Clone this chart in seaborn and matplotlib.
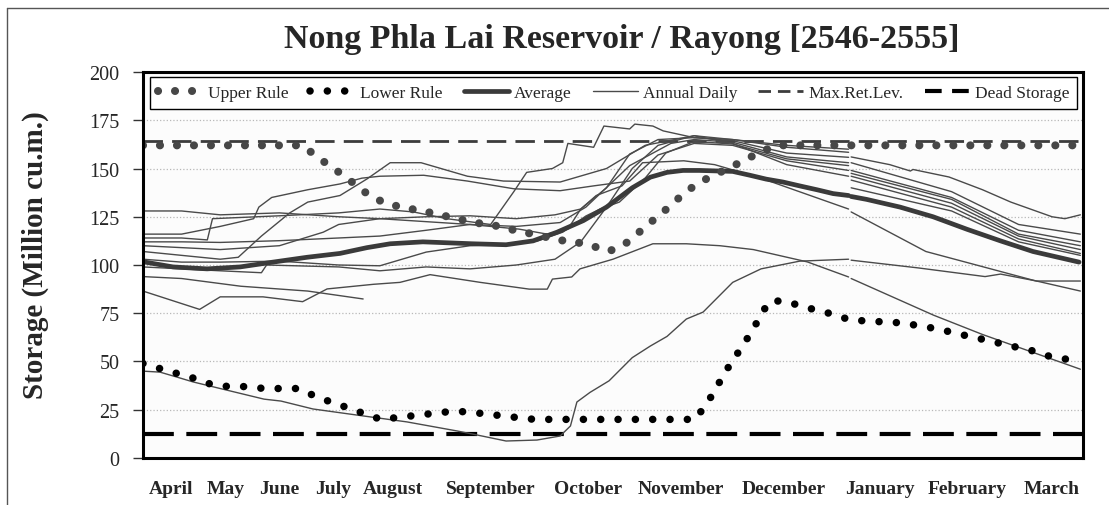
import numpy as np
import pandas as pd
import seaborn as sns
import matplotlib.pyplot as plt
from matplotlib.lines import Line2D

# ---------------------------------------------------------------
# data (x = day counted from 1 April, y = storage in million cu.m.)
# ---------------------------------------------------------------
months = ["April", "May", "June", "July", "August", "September", "October",
          "November", "December", "January", "February", "March"]
month_label_day = [11, 32, 53, 74, 97, 135, 173, 209, 249, 286, 320, 353]

max_ret_level = 164
dead_storage = 12.5

upper_rule_day = [0, 62, 67.6, 73, 78.8, 84, 89, 95.5, 102, 108.7, 115.3, 122, 128, 135, 141, 148,
                  155, 161, 167.6, 174.4, 180.6, 186.4, 191.8, 197, 200.8, 205.8, 210.9, 216.3,
                  222.5, 228.7, 234.6, 240.4, 246.6, 364]
upper_rule_val = [162, 162, 156, 151, 145.5, 140, 135, 131.5, 129.5, 128, 126, 124, 122, 121, 119, 117,
                  115, 113, 112, 110, 107, 110, 116, 122, 126, 132, 138, 143,
                  147, 151, 155, 159, 162, 162]

lower_rule_day = [0, 7.4, 14, 20.6, 26.8, 33.4, 40.4, 47, 54, 60.6, 66.8, 73, 79.6, 85.8, 92.4, 99,
                  105.6, 112, 118.8, 125.4, 132, 138.6, 145, 152, 214.4, 218.3, 221.7, 225.2, 228.7,
                  232.6, 236.1, 239.6, 243, 248.5, 255, 261.7, 268, 274.6, 281, 287.8, 294.8, 301.4,
                  308, 314.6, 320.8, 327.8, 334, 340.6, 347.2, 353.4, 360, 364]
lower_rule_val = [49, 46, 43.5, 41, 38, 37, 37, 36, 36, 36, 32, 29, 26, 23, 20, 21,
                  22, 23, 24, 24, 23, 22, 21, 20, 20, 27, 34, 42.5, 50,
                  57.5, 65, 73, 81, 81.5, 79, 76.5, 74.5, 71.5, 71, 70.5, 70, 68.5,
                  67, 65, 63, 61, 59, 57, 55, 52, 51, 49.5]

# average storage (April-December / January-March)
avg_aprdec = [(0.8, 101.5), (11.7, 99), (24.9, 98), (37.7, 99), (50.5, 101.5), (63.7, 104), (76.5, 106),
              (87, 109), (96, 111), (108.7, 112), (128, 111), (141, 110.5), (151.5, 112.5), (160.8, 117),
              (171, 123), (180, 130), (184, 134), (190, 140), (197, 145.5), (203.5, 148), (209.7, 149),
              (216, 149), (229, 148.5), (235.7, 146.5), (242, 144.5), (248.5, 143), (255, 141),
              (261.7, 139), (268, 137), (274, 136)]
avg_janmar = [(275, 135.5), (281, 134), (294, 130), (306.8, 125), (320, 118.5), (333, 112.5),
              (345.6, 107), (363.5, 101.5)]

# annual daily storage, one pair of lists per year
yr_a_aprdec = [(0, 128), (15, 128), (30, 126), (53, 127), (76, 125), (92, 124), (127, 121), (146, 118.6),
               (157, 116), (165, 118.6), (170, 129), (176, 136), (186, 141), (194, 153), (210, 154),
               (222, 152), (240, 145), (274, 129)]
yr_a_janmar = [(275, 127.5), (304, 107), (346, 92), (364, 86.5)]
yr_b_aprdec = [(0, 107), (15, 105), (30, 103), (37, 104), (46, 115), (57, 127), (64, 132.6), (76.5, 136),
               (87, 144.6), (96, 153), (108, 153), (126, 146), (140, 143.5), (162, 143), (180, 150),
               (195, 162), (214, 167), (229, 165), (250, 161), (274, 158.4)]
yr_b_janmar = [(275, 153), (314, 138), (340, 121), (364, 116)]
yr_c_aprdec = [(0, 114), (15, 114), (25, 113), (27, 124), (53, 125.5), (76, 127), (92, 129), (105, 127.5),
               (118, 124), (135, 121), (144, 138), (149, 148), (159, 150), (163, 153), (165, 163),
               (175, 161), (179, 172), (189, 170.5), (191, 173), (198, 172), (202, 169.5), (214, 166),
               (229, 165), (250, 162), (274, 160)]
yr_c_janmar = [(275, 156), (290, 152), (298, 148.7), (299, 149.5), (313, 145.6), (326, 139),
               (337, 132.6), (353, 125), (358, 124), (364, 126)]
yr_d_aprdec = [(0, 110), (15, 109), (30, 108), (53, 110), (70, 117), (76, 121), (92, 124), (110, 125),
               (127, 125.5), (145, 124), (160, 126), (170, 129), (180, 140), (189, 157.5), (200, 165),
               (214, 166), (229, 164.4), (250, 158), (274, 155.8)]
yr_d_janmar = [(275, 149), (314, 135), (340, 118), (364, 112)]
yr_e_aprdec = [(0, 112), (15, 112), (30, 111.7), (53, 112.6), (76, 114), (92, 115), (110, 118),
               (127, 121), (145, 120), (162, 122), (172, 130), (189, 151.5), (205, 163), (214, 165),
               (229, 163.6), (250, 156), (274, 153)]
yr_e_janmar = [(275, 146), (314, 132), (340, 115), (364, 108)]
yr_f_aprdec = [(0, 103), (15, 101.5), (30, 101.5), (53, 102), (76, 100), (92, 99.6), (110, 106.7),
               (127, 110), (144, 111), (153, 112.4), (163, 117), (172, 125.4), (177.5, 129),
               (185, 132.6), (195, 145), (203, 158), (214, 164), (229, 162.7), (250, 155), (274, 151.5)]
yr_f_janmar = [(275, 144), (314, 130), (340, 113.5), (364, 106)]
yr_g_aprdec = [(0, 116), (15, 116), (30, 120), (43, 124), (45, 130), (50, 135), (64, 139), (76.5, 142),
               (85, 145), (92, 146), (109, 146.5), (126, 143.5), (144, 139.5), (162, 138.5), (175, 141),
               (189, 143.5), (200, 157), (214, 163), (229, 162), (250, 154), (274, 149)]
yr_g_janmar = [(275, 147.5), (314, 134), (340, 116), (364, 110)]
yr_h_aprdec = [(0, 99), (15, 98), (30, 97), (46, 96), (48, 100), (76, 99), (92, 97), (110, 99),
               (127, 98), (145, 100), (160, 103), (170, 112), (180, 130), (190, 150), (200, 162),
               (214, 167), (229, 163), (250, 152), (274, 146)]
yr_h_janmar = [(275, 140), (314, 128), (340, 112), (364, 105)]
yr_p_aprdec = [(0, 45), (6.6, 44.5), (13, 42), (19.5, 39.4), (34, 34.7), (47, 30.5), (53.6, 29.5),
               (66, 25.4), (85.5, 21.8), (102.5, 18.7), (122, 14), (128, 12.4), (141, 8.8), (153, 9.3),
               (162, 11.4), (166, 16.6), (168.5, 29), (173.6, 34), (181, 40), (190, 52), (197, 58),
               (203.5, 63), (211, 72), (217.5, 75.6), (229, 91), (240, 98), (255, 102), (274, 103)]
yr_p_janmar = [(275, 102.5), (301, 98.5), (327, 94), (333, 95.3), (347, 91.7), (364, 91.7)]
yr_q_aprdec = [(0, 86.5), (22, 77), (30, 83.5), (46.6, 83.5), (62, 81), (71.5, 87.6), (89.5, 90),
               (99.8, 91), (111.5, 95), (131, 91), (150, 87.5), (157, 87.5), (159, 92.7), (166.5, 93.8),
               (169.7, 98), (182.5, 103), (198, 111), (211, 111), (224, 110), (237, 108),
               (258, 101.6), (274, 93.8)]
yr_q_janmar = [(275, 93), (307, 74), (326, 64), (345, 55), (364, 46)]
yr_r_aprjul = [(0, 94), (15, 93), (38, 89), (64, 86.5), (85.5, 82.4)]

annual_segments = [yr_a_aprdec, yr_a_janmar, yr_b_aprdec, yr_b_janmar, yr_c_aprdec, yr_c_janmar,
                   yr_d_aprdec, yr_d_janmar, yr_e_aprdec, yr_e_janmar, yr_f_aprdec, yr_f_janmar,
                   yr_g_aprdec, yr_g_janmar, yr_h_aprdec, yr_h_janmar, yr_p_aprdec, yr_p_janmar,
                   yr_q_aprdec, yr_q_janmar, yr_r_aprjul]


def to_frame(segments):
    parts = []
    for i, seg in enumerate(segments):
        d = pd.DataFrame(seg, columns=["day", "value"])
        d["seg"] = i
        parts.append(d)
    return pd.concat(parts, ignore_index=True)


df_daily = to_frame(annual_segments)
df_avg = to_frame([avg_aprdec, avg_janmar])
df_upper = pd.DataFrame({"day": upper_rule_day, "value": upper_rule_val})
df_lower = pd.DataFrame({"day": lower_rule_day, "value": lower_rule_val})
df_maxret = pd.DataFrame({"day": [0, 365], "value": [max_ret_level] * 2})
df_dead = pd.DataFrame({"day": [0, 365], "value": [dead_storage] * 2})

# ---------------------------------------------------------------
# plot
# ---------------------------------------------------------------
sns.set_style("white")
plt.rcParams["font.family"] = ["Liberation Serif", "DejaVu Serif"]

fig = plt.figure(figsize=(11.09, 5.06), dpi=100)
ax = fig.add_axes([0.1289, 0.0929, 0.8476, 0.7628])
ax.set_facecolor("#fcfcfc")

dot_upper = (0, (0.01, 2.1))
dot_lower = (0, (0.01, 2.3))

sns.lineplot(data=df_maxret, x="day", y="value", color="#3c3c3c", lw=2.0, ax=ax, legend=False)
ax.lines[-1].set_dashes((7.0, 3.3))
sns.lineplot(data=df_dead, x="day", y="value", color="black", lw=3.0, ax=ax, legend=False)
ax.lines[-1].set_dashes((7.4, 3.0))

sns.lineplot(data=df_daily, x="day", y="value", units="seg", estimator=None, color="#4a4a4a",
             lw=1.0, ax=ax, legend=False)
sns.lineplot(data=df_avg, x="day", y="value", units="seg", estimator=None, color="#3a3a3a",
             lw=3.4, ax=ax, legend=False)

sns.lineplot(data=df_upper, x="day", y="value", color="#474747", lw=5.8, ax=ax, legend=False)
ax.lines[-1].set_linestyle(dot_upper)
ax.lines[-1].set_dash_capstyle("round")
sns.lineplot(data=df_lower, x="day", y="value", color="black", lw=5.4, ax=ax, legend=False)
ax.lines[-1].set_linestyle(dot_lower)
ax.lines[-1].set_dash_capstyle("round")

ax.set_xlim(0, 365)
ax.set_ylim(0, 200)
ax.set_yticks(range(0, 201, 25))
ax.set_xticks(month_label_day)
ax.set_xticklabels(months, fontweight="bold")
ax.tick_params(axis="x", length=0, pad=16, labelsize=14)
ax.tick_params(axis="y", direction="out", length=7, width=1, color="#333333", pad=10, labelsize=14.5,
               left=True)
ax.set_xlabel("")
ax.set_ylabel("")
ax.yaxis.grid(True, color="#b8b8b8", ls=":", lw=0.9)
ax.set_axisbelow(True)
for sp in ax.spines.values():
    sp.set_color("black")
    sp.set_linewidth(2.2)

handles = [
    Line2D([], [], color="#474747", lw=5.8, ls=dot_upper, dash_capstyle="round"),
    Line2D([], [], color="black", lw=5.4, ls=dot_lower, dash_capstyle="round"),
    Line2D([], [], color="#3a3a3a", lw=3.4),
    Line2D([], [], color="#4a4a4a", lw=1.0),
    Line2D([], [], color="#3c3c3c", lw=2.0, dashes=(4.5, 2.5)),
    Line2D([], [], color="black", lw=3.0, dashes=(4.0, 2.5)),
]
labels = ["Upper Rule", "Lower Rule", "Average", "Annual Daily", "Max.Ret.Lev.", "Dead Storage"]
leg = ax.legend(handles, labels, loc="upper left", bbox_to_anchor=(0.0075, 0.987, 0.9865, 0.0),
                mode="expand", ncol=6, fontsize=12.5, handlelength=2.6, handletextpad=0.3,
                borderaxespad=0, borderpad=0.45, frameon=True, fancybox=False, framealpha=1)
leg.get_frame().set_edgecolor("black")
leg.get_frame().set_linewidth(1.0)

fig.text(0.561, 0.921, "Nong Phla Lai Reservoir / Rayong [2546-2555]", ha="center", va="center",
         fontsize=24.5, fontweight="bold")
fig.text(35 / 1109, 1 - 255 / 506, "Storage (Million cu.m.)", rotation=90, ha="center", va="center",
         fontsize=21, fontweight="bold")

# outer chart frame
fig.add_artist(Line2D([7 / 1109, 7 / 1109], [0, 1 - 9 / 506], transform=fig.transFigure,
                      color="#555555", lw=1.0))
fig.add_artist(Line2D([7 / 1109, 1], [1 - 9 / 506, 1 - 9 / 506], transform=fig.transFigure,
                      color="#555555", lw=1.0))

fig.savefig("out.png", dpi=100)
